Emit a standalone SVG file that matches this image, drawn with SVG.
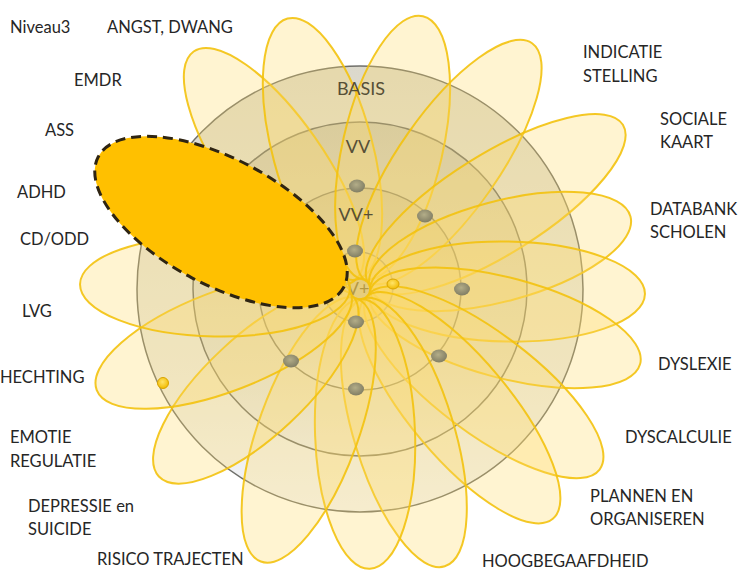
<svg xmlns="http://www.w3.org/2000/svg" width="739" height="571" viewBox="0 0 739 571">
<defs>
<linearGradient id="ringGrad" x1="0" y1="0" x2="0" y2="1">
<stop offset="0" stop-color="#b8b298"/>
<stop offset="0.75" stop-color="#d9d8cf"/>
<stop offset="1" stop-color="#e6eaf6"/>
</linearGradient>
<radialGradient id="dotGrad" cx="0.45" cy="0.4" r="0.6">
<stop offset="0" stop-color="#b3ad88"/>
<stop offset="1" stop-color="#817e64"/>
</radialGradient>
<radialGradient id="ydotGrad" cx="0.45" cy="0.4" r="0.6">
<stop offset="0" stop-color="#ffe46a"/>
<stop offset="1" stop-color="#f2bb00"/>
</radialGradient>
</defs>
<style>
.ring{fill:url(#ringGrad);fill-opacity:0.5;stroke:#6f6f6a;stroke-width:1.5}
.rlab{font-family:Lato,"Liberation Sans",sans-serif;font-size:18px;fill:#564f36;text-anchor:middle}
.petal{fill:#ffd966;fill-opacity:0.3;stroke:#f3c20e;stroke-width:2;stroke-opacity:0.9}
.lab{font-family:Lato,"Liberation Sans",sans-serif;font-size:16.5px;fill:#262626}
.dot{fill:url(#dotGrad)}
.ydot{fill:url(#ydotGrad);stroke:#d9a400;stroke-width:1}
</style>
<rect width="739" height="571" fill="#ffffff"/>
<g id="rings">
<circle id="ring-basis" class="ring" cx="360" cy="289" r="223"/>
<circle id="ring-vv" class="ring" cx="360" cy="289" r="167"/>
<circle id="ring-vvplus" class="ring" cx="360" cy="289" r="101"/>
<text class="rlab" x="352" y="295">VV+</text>
<circle id="ring-inner" cx="358" cy="287" r="35" fill="#f2c94c" fill-opacity="0.6" stroke="#6f6f6a" stroke-width="1.5"/>
</g>
<g id="petals">
<g id="petal-a"><ellipse class="petal" cx="510" cy="289" rx="140" ry="50" transform="rotate(-125 360 289)"/></g>
<g id="petal-b"><ellipse class="petal" cx="505" cy="289" rx="135" ry="50" transform="rotate(-105 360 289)"/></g>
<g id="petal-c"><ellipse class="petal" cx="505" cy="289" rx="135" ry="50" transform="rotate(-77 360 289)"/></g>
<g id="petal-d"><ellipse class="petal" cx="515" cy="289" rx="145" ry="50" transform="rotate(-55 360 289)"/></g>
<g id="petal-e"><ellipse class="petal" cx="520" cy="289" rx="150" ry="50" transform="rotate(-32 360 289)"/></g>
<g id="petal-f"><ellipse class="petal" cx="505" cy="289" rx="135" ry="50" transform="rotate(-15 360 289)"/></g>
<g id="petal-g"><ellipse class="petal" cx="507.5" cy="289" rx="137.5" ry="50" transform="rotate(1 360 289)"/></g>
<g id="petal-h"><ellipse class="petal" cx="510" cy="289" rx="140" ry="50" transform="rotate(15 360 289)"/></g>
<g id="petal-i"><ellipse class="petal" cx="515" cy="289" rx="145" ry="50" transform="rotate(37 360 289)"/></g>
<g id="petal-j"><ellipse class="petal" cx="515" cy="289" rx="145" ry="50" transform="rotate(50 360 289)"/></g>
<g id="petal-k"><ellipse class="petal" cx="510" cy="289" rx="140" ry="50" transform="rotate(73 360 289)"/></g>
<g id="petal-l"><ellipse class="petal" cx="505" cy="289" rx="135" ry="50" transform="rotate(88 360 289)"/></g>
<g id="petal-m"><ellipse class="petal" cx="510" cy="289" rx="140" ry="50" transform="rotate(110 360 289)"/></g>
<g id="petal-n"><ellipse class="petal" cx="502.5" cy="289" rx="132.5" ry="50" transform="rotate(137 360 289)"/></g>
<g id="petal-o"><ellipse class="petal" cx="506" cy="289" rx="136" ry="50" transform="rotate(159 360 289)"/></g>
<g id="petal-p"><ellipse class="petal" cx="505" cy="289" rx="135" ry="50" transform="rotate(181 360 289)"/></g>
</g>
<g id="ring-labels">
<text class="rlab" x="361" y="95">BASIS</text>
<text class="rlab" x="358" y="153">VV</text>
<text class="rlab" x="356" y="221">VV+</text>
</g>
<g id="dots">
<ellipse class="dot" cx="357" cy="186" rx="8" ry="6.5"/>
<ellipse class="dot" cx="425" cy="216" rx="8" ry="6.5"/>
<ellipse class="dot" cx="462" cy="289" rx="8" ry="6.5"/>
<ellipse class="dot" cx="439" cy="356" rx="8" ry="6.5"/>
<ellipse class="dot" cx="356" cy="389" rx="8" ry="6.5"/>
<ellipse class="dot" cx="291" cy="361" rx="8" ry="6.5"/>
<ellipse class="dot" cx="355" cy="251" rx="8" ry="6.5"/>
<ellipse class="dot" cx="356" cy="322" rx="8" ry="6.5"/>
<ellipse class="ydot" cx="393" cy="284" rx="6" ry="5"/>
<ellipse class="ydot" cx="163" cy="383" rx="5.5" ry="5.5"/>
</g>
<g id="highlight-petal">
<ellipse cx="221" cy="222" rx="139" ry="63" transform="rotate(28 221 222)" fill="#ffc000" stroke="#2e2412" stroke-width="3" stroke-dasharray="10 6"/>
</g>
<g id="labels">
<text class="lab" x="10" y="33">Niveau3</text>
<text class="lab" x="107" y="33">ANGST, DWANG</text>
<text class="lab" x="74" y="86">EMDR</text>
<text class="lab" x="45" y="136">ASS</text>
<text class="lab" x="17" y="198">ADHD</text>
<text class="lab" x="20" y="245">CD/ODD</text>
<text class="lab" x="22" y="317">LVG</text>
<text class="lab" x="0" y="383">HECHTING</text>
<text class="lab" x="10" y="443">EMOTIE</text>
<text class="lab" x="10" y="467">REGULATIE</text>
<text class="lab" x="28" y="512">DEPRESSIE en</text>
<text class="lab" x="28" y="535">SUICIDE</text>
<text class="lab" x="97" y="565">RISICO TRAJECTEN</text>
<text class="lab" x="482" y="567">HOOGBEGAAFDHEID</text>
<text class="lab" x="590" y="502">PLANNEN EN</text>
<text class="lab" x="590" y="525">ORGANISEREN</text>
<text class="lab" x="625" y="443">DYSCALCULIE</text>
<text class="lab" x="658" y="370">DYSLEXIE</text>
<text class="lab" x="650" y="215">DATABANK</text>
<text class="lab" x="650" y="238">SCHOLEN</text>
<text class="lab" x="660" y="125">SOCIALE</text>
<text class="lab" x="660" y="148">KAART</text>
<text class="lab" x="583" y="58">INDICATIE</text>
<text class="lab" x="583" y="82">STELLING</text>
</g>
</svg>
